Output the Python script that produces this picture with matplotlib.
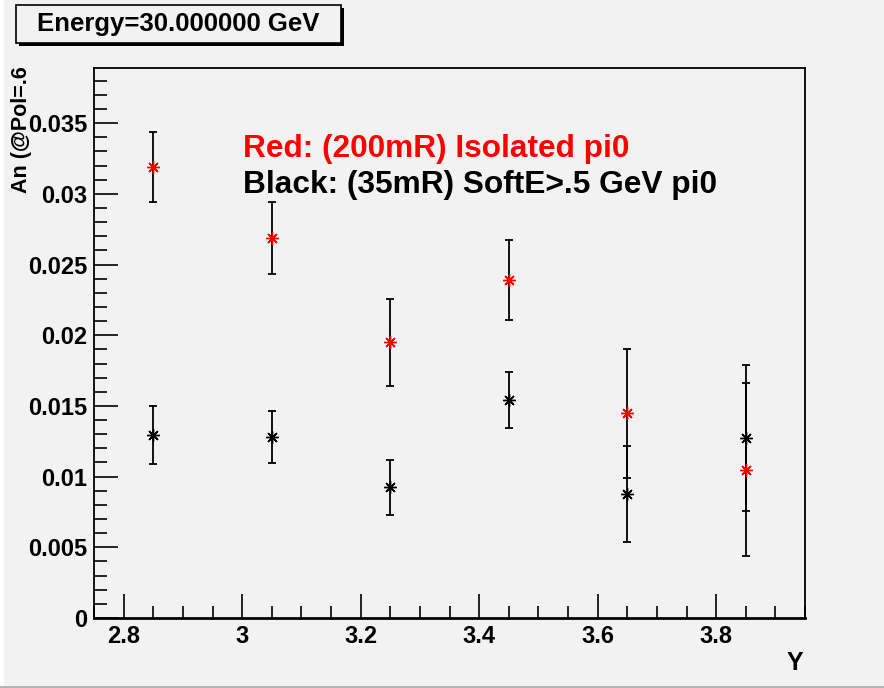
import numpy as np
import matplotlib
matplotlib.use('Agg')
import matplotlib.pyplot as plt
from matplotlib.patches import Rectangle
from matplotlib.ticker import MultipleLocator, FormatStrFormatter

plt.rcParams['font.family'] = ['Liberation Sans', 'DejaVu Sans']
plt.rcParams['font.weight'] = 'bold'

# data
y_bins = [2.85, 3.05, 3.25, 3.45, 3.65, 3.85]

an_red = [0.0319, 0.0269, 0.0195, 0.0239, 0.01447, 0.0105]
err_red = [0.00247, 0.00254, 0.00306, 0.00285, 0.00457, 0.0061]

an_black = [0.01293, 0.01281, 0.00923, 0.01541, 0.00876, 0.0127]
err_black = [0.00203, 0.00186, 0.00191, 0.0020, 0.0034, 0.00516]

bg = '#f2f2f2'
W, H = 884, 688
fig = plt.figure(figsize=(W / 100, H / 100), dpi=100, facecolor=bg)
ax = fig.add_axes([94 / W, 1 - 618 / H, (805 - 94) / W, (618 - 68) / H])
ax.set_facecolor(bg)

star = (8, 2, 0)
for yv, ev, col in [(an_red, err_red, 'red'), (an_black, err_black, 'black')]:
    ax.errorbar(y_bins, yv, yerr=ev, fmt='none', ecolor='black',
                elinewidth=1.3, capsize=3, capthick=1.3, zorder=2)
    ax.plot(y_bins, yv, linestyle='none', marker=star, markersize=9,
            markeredgewidth=1.0, color=col, zorder=3)

ax.set_xlim(2.75, 3.95)
ax.set_ylim(0, 0.0389)

ax.xaxis.set_major_locator(MultipleLocator(0.2))
ax.xaxis.set_minor_locator(MultipleLocator(0.05))
ax.yaxis.set_major_locator(MultipleLocator(0.005))
ax.yaxis.set_minor_locator(MultipleLocator(0.001))
ax.xaxis.set_major_formatter(FormatStrFormatter('%g'))
ax.yaxis.set_major_formatter(FormatStrFormatter('%g'))

ax.tick_params(which='both', direction='in', top=False, right=False,
               labelsize=17, width=1.2)
ax.tick_params(which='major', length=17)
ax.tick_params(which='minor', length=9)
ax.tick_params(axis='x', pad=5)
ax.tick_params(axis='y', pad=5)
for s in ax.spines.values():
    s.set_linewidth(1.3)
ax.spines['bottom'].set_linewidth(2)

for lab in ax.get_xticklabels() + ax.get_yticklabels():
    lab.set_fontweight('bold')

# axis titles placed like ROOT (right/top aligned)
fig.text(803 / W, 1 - 663 / H, 'Y', ha='right', va='center',
         fontsize=18, fontweight='bold')
fig.text(22 / W, 1 - 66 / H, 'An (@Pol=.6', rotation=90, ha='center',
         va='top', fontsize=15.5, fontweight='bold')

# legend-like text
fig.text(243 / W, 1 - 157 / H, 'Red: (200mR) Isolated pi0', color='red',
         fontsize=22.8, fontweight='bold', va='baseline')
fig.text(243 / W, 1 - 193 / H, 'Black: (35mR) SoftE>.5 GeV pi0',
         color='black', fontsize=22.8, fontweight='bold', va='baseline')

# title box with shadow
fig.patches.append(Rectangle((19 / W, 1 - 46 / H), 325 / W, 38 / H,
                             transform=fig.transFigure, facecolor='black',
                             edgecolor='none', zorder=1))
fig.patches.append(Rectangle((16 / W, 1 - 43 / H), 325 / W, 38 / H,
                             transform=fig.transFigure, facecolor=bg,
                             edgecolor='black', linewidth=1.2, zorder=2))
fig.text(178 / W, 1 - 24 / H, 'Energy=30.000000 GeV', ha='center',
         va='center', fontsize=18.5, fontweight='bold', zorder=3)

# canvas edge lines
fig.patches.append(Rectangle((0, 0), 4 / W, 1, transform=fig.transFigure,
                             facecolor='white', edgecolor='none'))
fig.patches.append(Rectangle((0, 0), 1, 2 / H, transform=fig.transFigure,
                             facecolor='#b4b4b4', edgecolor='none'))

fig.savefig('out.png', dpi=100, facecolor=bg)
